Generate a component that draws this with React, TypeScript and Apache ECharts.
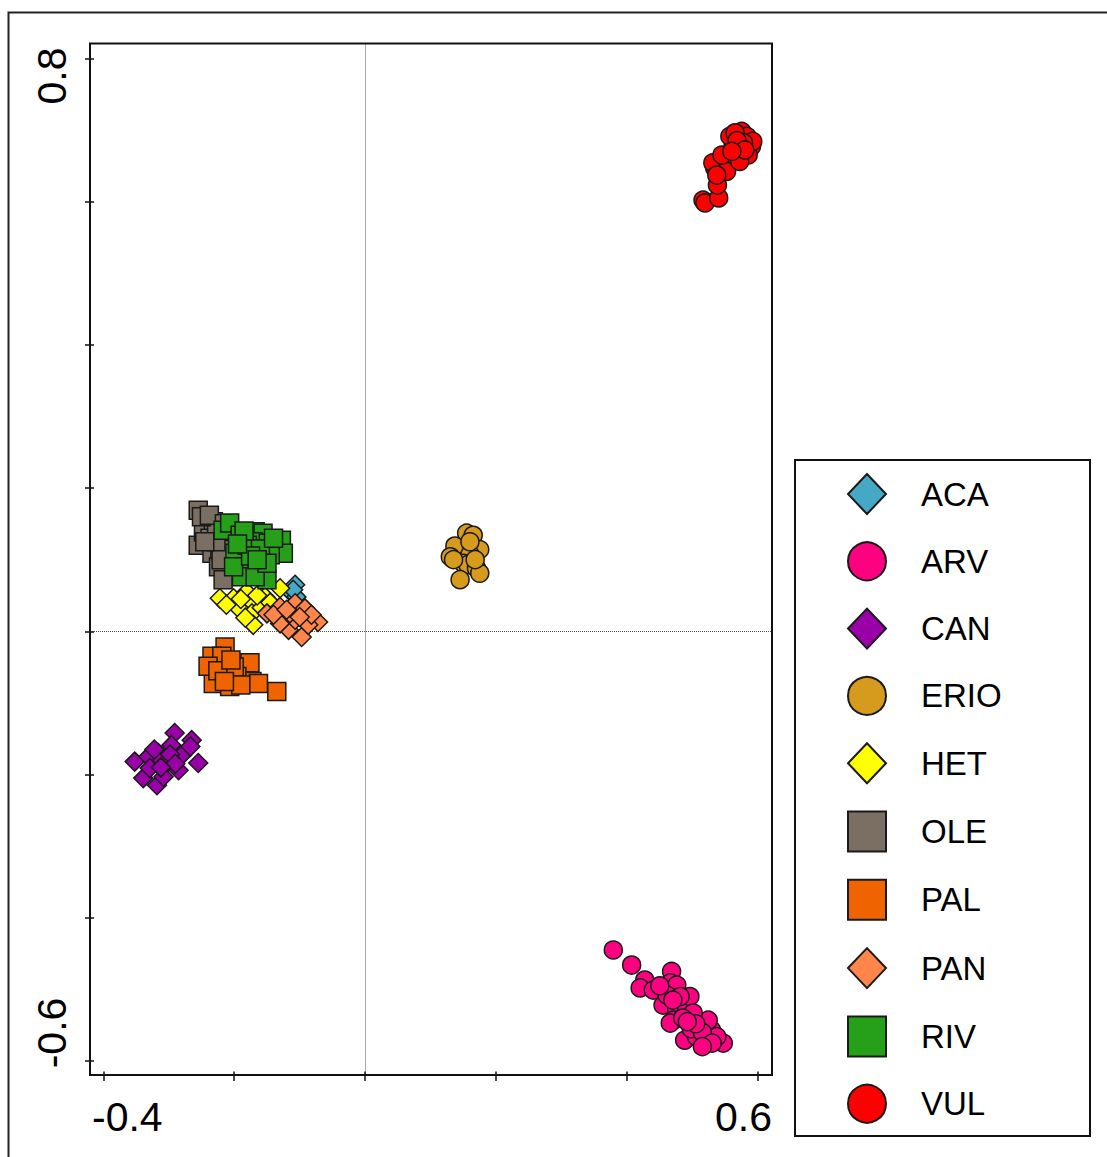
import React, { useEffect, useRef } from "react";
import * as echarts from "echarts";

// ---- data (x = axis 1, y = axis 2) ----
const ACA: number[][] = [[-0.107, 0.065], [-0.112, 0.053], [-0.105, 0.048], [-0.110, 0.058]];
const ARV: number[][] = [
  [0.379, -0.445], [0.407, -0.466], [0.427, -0.487], [0.420, -0.498], [0.440, -0.501], [0.468, -0.475],
  [0.466, -0.491], [0.455, -0.522], [0.476, -0.494], [0.476, -0.529], [0.491, -0.524], [0.496, -0.510],
  [0.511, -0.552], [0.488, -0.571], [0.519, -0.575], [0.547, -0.575], [0.529, -0.557], [0.471, -0.543],
  [0.506, -0.566], [0.524, -0.543], [0.461, -0.508], [0.481, -0.510], [0.501, -0.533], [0.466, -0.547],
  [0.537, -0.566], [0.450, -0.495], [0.485, -0.540], [0.498, -0.555], [0.515, -0.560], [0.530, -0.575],
  [0.505, -0.548], [0.492, -0.545], [0.470, -0.515], [0.515, -0.580],
];
const CAN: number[][] = [
  [-0.291, -0.142], [-0.265, -0.152], [-0.352, -0.182], [-0.339, -0.205], [-0.318, -0.215], [-0.316, -0.170],
  [-0.296, -0.159], [-0.280, -0.173], [-0.285, -0.194], [-0.255, -0.184], [-0.303, -0.184], [-0.331, -0.175],
  [-0.267, -0.161], [-0.329, -0.191], [-0.308, -0.203], [-0.310, -0.180], [-0.298, -0.172], [-0.322, -0.165],
  [-0.290, -0.185], [-0.312, -0.190],
];
const ERIO: number[][] = [
  [0.155, 0.137], [0.165, 0.134], [0.137, 0.119], [0.130, 0.104], [0.175, 0.114], [0.160, 0.107],
  [0.150, 0.095], [0.157, 0.093], [0.170, 0.088], [0.145, 0.072], [0.175, 0.081], [0.135, 0.100],
  [0.160, 0.125], [0.168, 0.100],
];
const HET: number[][] = [
  [-0.222, 0.046], [-0.201, 0.046], [-0.181, 0.055], [-0.173, 0.041], [-0.153, 0.048], [-0.130, 0.060],
  [-0.191, 0.030], [-0.173, 0.025], [-0.171, 0.009], [-0.183, 0.019], [-0.158, 0.033], [-0.212, 0.037],
  [-0.165, 0.050], [-0.190, 0.045], [-0.145, 0.040],
];
const OLE: number[][] = [
  [-0.255, 0.169], [-0.255, 0.120], [-0.242, 0.155], [-0.247, 0.139], [-0.232, 0.153], [-0.234, 0.109],
  [-0.224, 0.090], [-0.217, 0.072], [-0.222, 0.114], [-0.237, 0.130], [-0.227, 0.141], [-0.250, 0.160],
  [-0.238, 0.162], [-0.228, 0.125], [-0.220, 0.100], [-0.245, 0.125], [-0.215, 0.150],
];
const PAL: number[][] = [
  [-0.214, -0.022], [-0.234, -0.035], [-0.219, -0.035], [-0.217, -0.061], [-0.186, -0.047], [-0.176, -0.044],
  [-0.173, -0.070], [-0.163, -0.073], [-0.135, -0.084], [-0.232, -0.073], [-0.207, -0.077], [-0.240, -0.049],
  [-0.196, -0.063], [-0.200, -0.050], [-0.225, -0.055], [-0.190, -0.075], [-0.215, -0.070], [-0.205, -0.040],
];
const PAN: number[][] = [
  [-0.150, 0.025], [-0.130, 0.034], [-0.107, 0.039], [-0.092, 0.032], [-0.072, 0.013], [-0.097, -0.008],
  [-0.117, 0.002], [-0.130, 0.011], [-0.107, 0.016], [-0.087, 0.009], [-0.140, 0.023], [-0.115, 0.025],
  [-0.082, 0.023], [-0.100, 0.020], [-0.120, 0.030],
];
const RIV: number[][] = [
  [-0.217, 0.141], [-0.207, 0.151], [-0.168, 0.139], [-0.156, 0.137], [-0.171, 0.125], [-0.148, 0.123],
  [-0.128, 0.127], [-0.125, 0.109], [-0.181, 0.097], [-0.199, 0.109], [-0.158, 0.093], [-0.189, 0.076],
  [-0.150, 0.072], [-0.168, 0.076], [-0.145, 0.107], [-0.201, 0.090], [-0.191, 0.134], [-0.180, 0.120],
  [-0.160, 0.115], [-0.140, 0.130], [-0.185, 0.140], [-0.175, 0.105], [-0.195, 0.122], [-0.150, 0.095],
  [-0.165, 0.100],
];
const VUL: number[][] = [
  [0.516, 0.602], [0.519, 0.598], [0.540, 0.605], [0.538, 0.623], [0.534, 0.647], [0.531, 0.654],
  [0.551, 0.660], [0.552, 0.642], [0.562, 0.679], [0.575, 0.698], [0.590, 0.677], [0.583, 0.691],
  [0.569, 0.668], [0.585, 0.665], [0.557, 0.691], [0.572, 0.656], [0.545, 0.665], [0.565, 0.696],
  [0.592, 0.684], [0.537, 0.637], [0.578, 0.682], [0.568, 0.685], [0.580, 0.672], [0.560, 0.670],
];

const seriesNames = ["ACA", "ARV", "CAN", "ERIO", "HET", "OLE", "PAL", "PAN", "RIV", "VUL"];
const seriesData = [ACA, ARV, CAN, ERIO, HET, OLE, PAL, PAN, RIV, VUL];
const seriesSymbols = ["diamond", "circle", "diamond", "circle", "diamond", "rect", "rect", "diamond", "rect", "circle"];
const seriesColors = ["#45A9C5", "#FF0080", "#9A00A8", "#D69A1D", "#FFFF00", "#7B6F64", "#F06400", "#FF854A", "#25A018", "#FF0000"];

const xTickLabels = ["-0.4", "0.6"];
const yTickLabels = ["0.8", "-0.6"];

const FONT = "'Liberation Sans', Arial, sans-serif";

const symbolSizeFor = (s: string) => (s === "diamond" ? 19 : 18);

export default function App() {
  const ref = useRef<HTMLDivElement>(null);
  useEffect(() => {
    const chart = echarts.init(ref.current!, null, { renderer: "svg" });
    const frame = { x: 90, y: 43.5, w: 682, h: 1031.5 };
    const option: any = {
      animation: false,
      backgroundColor: "#ffffff",
      grid: { left: 103.3, right: 349, top: 58.3, bottom: 96, containLabel: false },
      xAxis: {
        type: "value",
        min: -0.4,
        max: 0.6,
        interval: 0.2,
        position: "bottom",
        offset: 10.5,
        axisLine: { show: false, onZero: false },
        axisTick: { show: true, inside: false, length: 9.5, lineStyle: { color: "#111", width: 1.5 } },
        axisLabel: { show: false },
        splitLine: { show: false },
      },
      yAxis: {
        type: "value",
        min: -0.6,
        max: 0.8,
        interval: 0.2,
        position: "left",
        offset: 9.3,
        axisLine: { show: false, onZero: false },
        axisTick: { show: true, inside: false, length: 9, lineStyle: { color: "#111", width: 1.5 } },
        axisLabel: { show: false },
        splitLine: { show: false },
      },
      legend: {
        orient: "vertical",
        left: 847,
        top: 473,
        padding: 0,
        itemWidth: 38,
        itemHeight: 40,
        itemGap: 26.3,
        data: seriesNames,
        textStyle: { fontFamily: FONT, fontSize: 33, lineHeight: 36, color: "#000", padding: [0, 0, 0, 30] },
      },
      series: seriesNames.map((name, i) => ({
        name,
        type: "scatter",
        symbol: seriesSymbols[i],
        symbolSize: symbolSizeFor(seriesSymbols[i]),
        data: seriesData[i],
        clip: false,
        itemStyle: { color: seriesColors[i], borderColor: "#1a1a1a", borderWidth: 1.5, opacity: 1 },
        emphasis: { disabled: true },
      })),
    };
    chart.setOption(option);

    const origin = chart.convertToPixel({ gridIndex: 0 }, [0, 0]) as number[];
    const ox = Math.round(origin[0]) + 0.5;
    const oy = Math.round(origin[1]) + 0.5;
    const graphics: any[] = [
      {
        type: "rect",
        silent: true,
        shape: { x: 8.5, y: 12.5, width: 1120, height: 1170 },
        style: { fill: "none", stroke: "#222", lineWidth: 2 },
        z: 0,
      },
      {
        type: "rect",
        silent: true,
        shape: { x: frame.x, y: frame.y, width: frame.w, height: frame.h },
        style: { fill: "none", stroke: "#111", lineWidth: 2 },
        z: 10,
      },
      {
        type: "line",
        silent: true,
        shape: { x1: ox, y1: frame.y, x2: ox, y2: frame.y + frame.h },
        style: { stroke: "#555", lineWidth: 1, lineDash: [1, 1] },
        z: 0,
      },
      {
        type: "line",
        silent: true,
        shape: { x1: frame.x, y1: oy, x2: frame.x + frame.w, y2: oy },
        style: { stroke: "#555", lineWidth: 1, lineDash: [1, 1] },
        z: 0,
      },
      {
        type: "rect",
        silent: true,
        shape: { x: 795, y: 460, width: 295, height: 676 },
        style: { fill: "none", stroke: "#111", lineWidth: 2 },
        z: 10,
      },
      {
        type: "text",
        silent: true,
        x: frame.x + 2,
        y: 1117,
        style: { text: xTickLabels[0], font: `41px ${FONT}`, fill: "#000", align: "left", verticalAlign: "middle" },
      },
      {
        type: "text",
        silent: true,
        x: frame.x + frame.w,
        y: 1117,
        style: { text: xTickLabels[1], font: `41px ${FONT}`, fill: "#000", align: "right", verticalAlign: "middle" },
      },
      {
        type: "text",
        silent: true,
        x: 52,
        y: 76,
        rotation: Math.PI / 2,
        style: { text: yTickLabels[0], font: `41px ${FONT}`, fill: "#000", align: "center", verticalAlign: "middle" },
      },
      {
        type: "text",
        silent: true,
        x: 52,
        y: 1033,
        rotation: Math.PI / 2,
        style: { text: yTickLabels[1], font: `41px ${FONT}`, fill: "#000", align: "center", verticalAlign: "middle" },
      },
    ];
    chart.setOption({ graphic: graphics });
    return () => chart.dispose();
  }, []);
  return <div ref={ref} style={{ position: "absolute", left: 0, top: 0, width: 1107, height: 1157 }} />;
}
